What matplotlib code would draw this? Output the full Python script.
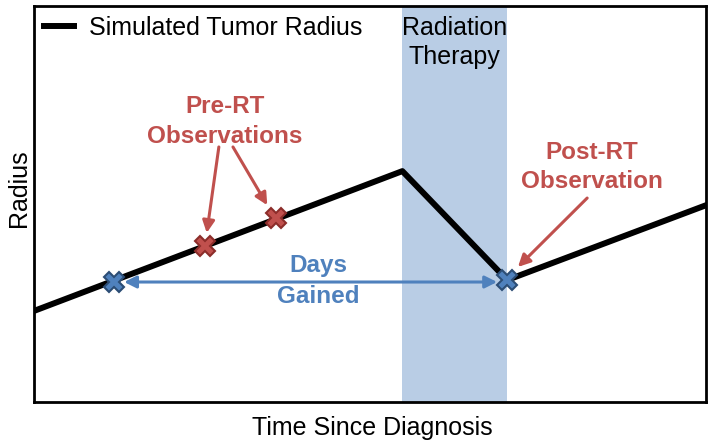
import matplotlib.pyplot as plt

plt.rcParams['font.family'] = ['Liberation Sans', 'DejaVu Sans']

## Données (unités arbitraires)
time = [0, 54.8, 70.4, 100]
radius = [23.0, 58.3, 30.8, 49.7]
rt_window = [54.8, 70.4]
pre_t = [25.4, 36.0]
pre_r = [39.4, 46.5]
post_t = [70.4]
post_r = [30.8]
ref_t = [11.9]
ref_r = [30.3]

red = '#c0504d'
red_dark = '#8c2d2a'
blue = '#4f81bd'
blue_dark = '#2c4d75'

fig = plt.figure(figsize=(7.15, 4.45), dpi=100)
ax = fig.add_axes([0.0476, 0.0966, 0.940, 0.890])

ax.axvspan(rt_window[0], rt_window[1], color='#b9cde5', lw=0, zorder=0)
ax.plot(time, radius, color='black', lw=4.3, label='Simulated Tumor Radius', zorder=2)

# double flèche "Days Gained"
ax.annotate('', xy=(post_t[0] - 1.5, ref_r[0]), xytext=(ref_t[0] + 1.5, ref_r[0]),
            arrowprops=dict(arrowstyle='<|-|>', color=blue, lw=2.2,
                            mutation_scale=18, shrinkA=0, shrinkB=0), zorder=1)

ax.plot(ref_t + post_t, ref_r + post_r, ls='none', marker='X', ms=15,
        mfc=blue, mec=blue_dark, mew=1.5, zorder=3)
ax.plot(pre_t, pre_r, ls='none', marker='X', ms=15,
        mfc=red, mec=red_dark, mew=1.5, zorder=3)

# annotations
ax.text(28.4, 70.8, 'Pre-RT\nObservations', color=red, fontsize=17.5, fontweight='bold',
        ha='center', va='center', linespacing=1.35)
arr = dict(arrowstyle='-|>', color=red, lw=2.2, mutation_scale=18, shrinkA=0, shrinkB=0)
ax.annotate('', xy=(25.7, 42.7), xytext=(27.5, 64.4), arrowprops=arr)
ax.annotate('', xy=(34.7, 49.7), xytext=(29.6, 64.4), arrowprops=arr)

ax.text(83.0, 59.4, 'Post-RT\nObservation', color=red, fontsize=17.5, fontweight='bold',
        ha='center', va='center', linespacing=1.35)
ax.annotate('', xy=(72.0, 34.1), xytext=(82.3, 51.5), arrowprops=arr)

ax.text(42.3, 30.6, 'Days\nGained', color=blue, fontsize=17.5, fontweight='bold',
        ha='center', va='center', linespacing=1.45)

ax.text(62.6, 90.8, 'Radiation\nTherapy', color='black', fontsize=18,
        ha='center', va='center', linespacing=1.25)

ax.set_xlim(0, 100)
ax.set_ylim(0, 100)
ax.set_xticks([])
ax.set_yticks([])
for s in ax.spines.values():
    s.set_linewidth(2)
ax.set_xlabel('Time Since Diagnosis', fontsize=18)
ax.set_ylabel('Radius', fontsize=18)
ax.xaxis.set_label_coords(0.503, -0.035, transform=ax.transAxes)
ax.xaxis.label.set_va('top')
ax.yaxis.set_label_coords(-0.022, 0.54, transform=ax.transAxes)
ax.yaxis.label.set_va('center')

ax.legend(loc='upper left', frameon=False, fontsize=18, handlelength=1.2,
          borderaxespad=0.1, handletextpad=0.6, borderpad=0.3)

fig.savefig('out.png', dpi=100)
